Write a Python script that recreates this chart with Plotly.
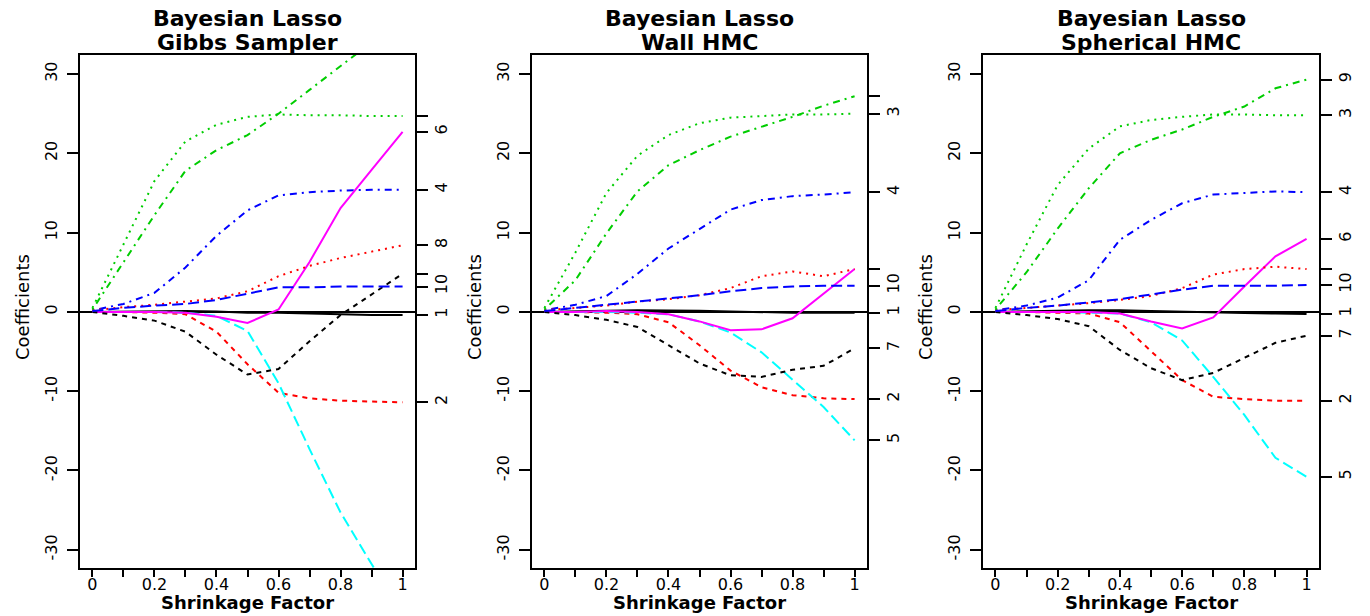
import plotly.graph_objects as go

# ---------------- data ----------------
shrink = [0, 0.1, 0.2, 0.3, 0.4, 0.5, 0.6, 0.7, 0.8, 0.9, 1.0]
x_tick_vals = [0, 0.1, 0.2, 0.3, 0.4, 0.5, 0.6, 0.7, 0.8, 0.9, 1.0]
x_tick_text = ["0", "", "0.2", "", "0.4", "", "0.6", "", "0.8", "", "1"]
y_tick_vals = [-30, -20, -10, 0, 10, 20, 30]
panel_titles = ["Bayesian Lasso<br>Gibbs Sampler", "Bayesian Lasso<br>Wall HMC", "Bayesian Lasso<br>Spherical HMC"]

# Gibbs sampler coefficient paths
gibbs_v1 = [0, 0.05, 0.1, 0.1, 0.05, -0.1, -0.1, -0.2, -0.3, -0.4, -0.4]
gibbs_v2 = [0, 0, -0.1, -0.3, -2.5, -6.6, -10.2, -10.9, -11.2, -11.3, -11.4]
gibbs_v3 = [0.5, 8.5, 16.5, 21.5, 23.6, 24.6, 24.9, 24.8, 24.8, 24.7, 24.7]
gibbs_v4 = [0.2, 1.0, 2.4, 5.6, 9.6, 12.8, 14.7, 15.1, 15.3, 15.4, 15.4]
gibbs_v5 = [0, 0, 0, -0.1, -0.5, -2.4, -9.0, -17.3, -25.3, -31.8, -38.0]
gibbs_v6 = [0, 0, 0, -0.1, -0.6, -1.4, 0.3, 6.3, 13.1, 17.9, 22.7]
gibbs_v7 = [0, -0.5, -1.1, -2.5, -5.4, -7.9, -7.2, -3.7, -0.4, 2.2, 4.8]
gibbs_v8 = [0.2, 0.6, 0.9, 1.3, 1.7, 2.6, 4.5, 5.8, 6.8, 7.6, 8.4]
gibbs_v9 = [0.3, 6.3, 12.2, 17.8, 20.4, 22.3, 25.0, 28.0, 31.0, 34.0, 37.0]
gibbs_v10 = [0.1, 0.5, 0.8, 1.0, 1.5, 2.3, 3.1, 3.1, 3.2, 3.2, 3.2]
gibbs_right_labels = ["1", "2", "", "4", "5", "6", "", "8", "9", "10"]

# Wall HMC coefficient paths
wall_v1 = [0, 0.1, 0.15, 0.2, 0.2, 0.15, 0.05, -0.05, -0.1, -0.1, -0.1]
wall_v2 = [0, 0, -0.1, -0.3, -1.3, -4.2, -7.4, -9.5, -10.5, -10.9, -11.0]
wall_v3 = [0.5, 7.5, 15.0, 19.7, 22.3, 23.8, 24.5, 24.7, 24.9, 24.9, 25.0]
wall_v4 = [0.2, 0.9, 2.0, 4.8, 8.0, 10.5, 12.9, 14.1, 14.6, 14.8, 15.1]
wall_v5 = [0, 0, 0, -0.1, -0.3, -1.2, -2.6, -5.1, -8.6, -12.0, -16.2]
wall_v6 = [0, 0, 0.1, 0, -0.3, -1.2, -2.3, -2.2, -0.8, 2.3, 5.4]
wall_v7 = [0, -0.4, -1.0, -1.9, -4.2, -6.5, -8.0, -8.2, -7.3, -6.8, -4.6]
wall_v8 = [0.2, 0.5, 0.8, 1.3, 1.6, 2.1, 3.0, 4.5, 5.1, 4.5, 5.4]
wall_v9 = [0.3, 4.0, 9.9, 15.2, 18.5, 20.4, 22.1, 23.3, 24.6, 26.0, 27.2]
wall_v10 = [0.1, 0.5, 0.9, 1.3, 1.7, 2.1, 2.6, 3.0, 3.2, 3.3, 3.3]
wall_right_labels = ["1", "2", "3", "4", "5", "", "7", "", "", "10"]

# Spherical HMC coefficient paths
sph_v1 = [0, 0.1, 0.15, 0.2, 0.2, 0.1, 0, -0.1, -0.15, -0.2, -0.25]
sph_v2 = [0, 0, -0.1, -0.2, -1.3, -5.0, -8.6, -10.7, -11.0, -11.2, -11.2]
sph_v3 = [0.5, 8.5, 16.0, 20.6, 23.4, 24.2, 24.6, 24.9, 24.9, 24.8, 24.8]
sph_v4 = [0.2, 0.8, 1.8, 4.0, 9.1, 11.6, 13.7, 14.8, 15.0, 15.2, 15.1]
sph_v5 = [0, 0, 0, -0.1, -0.2, -1.3, -3.6, -8.2, -13.0, -18.4, -20.8]
sph_v6 = [0, 0, 0.05, 0, -0.2, -1.2, -2.1, -0.7, 3.2, 7.0, 9.2]
sph_v7 = [0, -0.4, -0.9, -1.8, -4.8, -7.1, -8.6, -7.7, -5.8, -3.9, -3.0]
sph_v8 = [0.2, 0.5, 0.8, 1.1, 1.5, 2.0, 3.0, 4.7, 5.4, 5.7, 5.4]
sph_v9 = [0.3, 5.0, 10.5, 15.6, 20.0, 21.7, 23.0, 24.6, 25.9, 28.2, 29.3]
sph_v10 = [0.1, 0.5, 0.8, 1.2, 1.6, 2.2, 2.8, 3.3, 3.3, 3.3, 3.4]
sph_right_labels = ["1", "2", "3", "4", "5", "6", "7", "", "9", "10"]

panels = [
    [gibbs_v1, gibbs_v2, gibbs_v3, gibbs_v4, gibbs_v5, gibbs_v6, gibbs_v7, gibbs_v8, gibbs_v9, gibbs_v10],
    [wall_v1, wall_v2, wall_v3, wall_v4, wall_v5, wall_v6, wall_v7, wall_v8, wall_v9, wall_v10],
    [sph_v1, sph_v2, sph_v3, sph_v4, sph_v5, sph_v6, sph_v7, sph_v8, sph_v9, sph_v10],
]
right_labels = [gibbs_right_labels, wall_right_labels, sph_right_labels]

# ---------------- styles ----------------
line_colors = ["#000000", "#FF0000", "#00CD00", "#0000FF", "#00FFFF",
               "#FF00FF", "#000000", "#FF0000", "#00CD00", "#0000FF"]
solid = "solid"
dashed = "5px,5px"
dotted = "2px,5px"
dotdash = "2px,5px,7px,5px"
longdash = "11px,5px"
line_dashes = [solid, dashed, dotted, dotdash, longdash,
               solid, dashed, dotted, dotdash, longdash]

W, H = 1370, 616
boxes = [(80, 415), (532, 867), (983, 1319)]
box_top, box_bot = 55, 568
y_dom = [(H - box_bot) / H, (H - box_top) / H]
x_range = [-0.04, 1.04]
y_range = [-32.3, 32.4]
FONT = "DejaVu Sans"

fig = go.Figure()
layout = dict(
    width=W, height=H, margin=dict(l=0, r=0, t=0, b=0),
    paper_bgcolor="white", plot_bgcolor="white", showlegend=False,
    font=dict(family=FONT, size=16, color="black"),
)
annotations = []

for p in range(3):
    xa = "x" if p == 0 else f"x{p+1}"
    ya = "y" if p == 0 else f"y{p+1}"
    yr = f"y{p+4}"
    for v in range(10):
        fig.add_trace(go.Scatter(
            x=shrink, y=panels[p][v], mode="lines", xaxis=xa, yaxis=ya,
            line=dict(color=line_colors[v], width=2, dash=line_dashes[v]),
            hoverinfo="skip"))
    # right-axis carrier trace (no visible marks)
    fig.add_trace(go.Scatter(x=[None], y=[None], mode="lines", xaxis=xa, yaxis=yr,
                             hoverinfo="skip"))
    x0, x1 = boxes[p]
    dom = [x0 / W, x1 / W]
    xkey = "xaxis" if p == 0 else f"xaxis{p+1}"
    ykey = "yaxis" if p == 0 else f"yaxis{p+1}"
    layout[xkey] = dict(
        domain=dom, range=x_range, anchor=ya, tickmode="array",
        tickvals=x_tick_vals, ticktext=x_tick_text, ticks="outside",
        ticklen=7, tickwidth=2, tickcolor="black", showline=True, mirror=True,
        linecolor="black", linewidth=2, showgrid=False, zeroline=False,
        tickfont=dict(family=FONT, size=16), ticklabelstandoff=-6)
    layout[ykey] = dict(
        domain=y_dom, range=y_range, anchor=xa, tickmode="array",
        tickvals=y_tick_vals, ticktext=[str(t) for t in y_tick_vals],
        tickangle=-90, ticks="outside", ticklen=11, tickwidth=2,
        tickcolor="black", showline=True, mirror=True, linecolor="black",
        linewidth=2, showgrid=False, zeroline=True, zerolinecolor="black",
        zerolinewidth=2, tickfont=dict(family=FONT, size=16),
        ticklabelstandoff=4)
    finals = [series[-1] for series in panels[p]]
    layout[f"yaxis{p+4}"] = dict(
        overlaying=ya, side="right", anchor=xa, range=y_range,
        tickmode="array", tickvals=finals, ticktext=right_labels[p],
        tickangle=-90, ticks="outside", ticklen=12, tickwidth=2,
        tickcolor="black", showline=False, showgrid=False, zeroline=False,
        tickfont=dict(family=FONT, size=16))
    cx = (x0 + x1) / 2 / W
    t1, t2 = panel_titles[p].split("<br>")
    annotations.append(dict(text=t1, x=cx, y=1 - 18 / H, xref="paper", yref="paper",
                            xanchor="center", yanchor="middle", showarrow=False,
                            font=dict(family=FONT, size=22, weight="bold")))
    annotations.append(dict(text=t2, x=cx, y=1 - 43 / H, xref="paper", yref="paper",
                            xanchor="center", yanchor="middle", showarrow=False,
                            font=dict(family=FONT, size=22, weight="bold")))
    annotations.append(dict(text="Shrinkage Factor", x=cx, y=1 - 602 / H,
                            xref="paper", yref="paper", xanchor="center",
                            yanchor="middle", showarrow=False,
                            font=dict(family=FONT, size=18, weight="bold")))
    annotations.append(dict(text="Coefficients", x=(x0 - 58) / W, y=1 - 307 / H,
                            xref="paper", yref="paper", xanchor="center",
                            yanchor="middle", showarrow=False, textangle=-90,
                            font=dict(family=FONT, size=18)))

layout["annotations"] = annotations
fig.update_layout(**layout)
fig.write_html("out.html", config={"displayModeBar": False},
               post_script="document.body.style.margin='0px';document.body.style.padding='0px';")
